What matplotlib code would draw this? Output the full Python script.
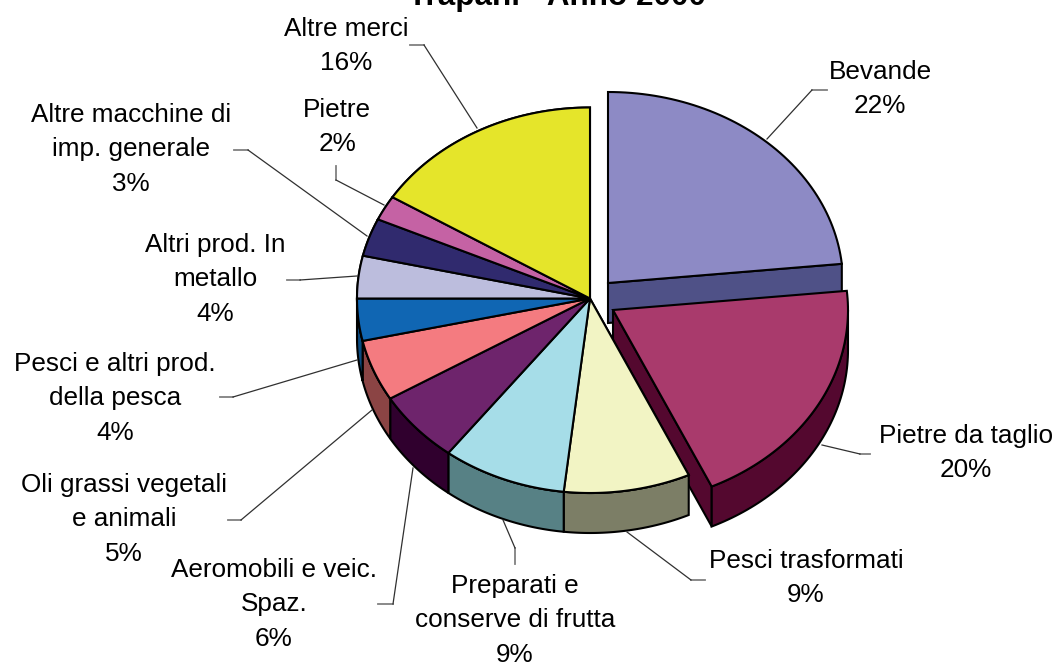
import matplotlib
matplotlib.use("Agg")
import matplotlib.pyplot as plt
import numpy as np

plt.rcParams['font.family'] = ['Liberation Sans', 'DejaVu Sans']

# slices clockwise from 12 o'clock, shares
names = ["Bevande", "Pietre da taglio", "Pesci trasformati",
         "Preparati e\nconserve di frutta", "Aeromobili e veic.\nSpaz.",
         "Oli grassi vegetali\ne animali", "Pesci e altri prod.\ndella pesca",
         "Altri prod. In\nmetallo", "Altre macchine di\nimp. generale",
         "Pietre", "Altre merci"]
shares = [23.4, 19.7, 8.7, 8.6, 6.0, 5.1, 3.5, 3.6, 3.2, 2.1, 16.1]
pct_labels = ["22%", "20%", "9%", "9%", "6%", "5%", "4%", "4%", "3%", "2%", "16%"]

top_cols = ["#8d8ac5", "#a93a6c", "#f2f4c4", "#a6dde8", "#6e246c", "#f47b80",
            "#1066b3", "#bcbddd", "#302a6e", "#c562a4", "#e5e52a"]
side_cols = ["#4f5187", "#54082f", "#7c7e66", "#578185", "#30002e", "#8b4444",
             "#0b4a80", "#6c6d88", "#1a1740", "#74385f", "#80801a"]

# label centres (x, y of the first line)
label_pos = [(880, 70), (966, 434), (806, 559), (515, 584), (274, 568),
             (124, 483), (115, 362), (215, 243), (131, 113), (337, 108), (346, 27)]

# leader lines: stub start, elbow, end on the pie
leaders = [[(827, 90), (812, 90), (767, 139)],
           [(870, 454), (860, 454), (822, 445)],
           [(705, 580), (691, 580), (627, 532)],
           [(515, 564), (515, 548), (503, 520)],
           [(378, 604), (393, 604), (413, 468)],
           [(228, 520), (241, 520), (372, 410)],
           [(220, 397), (233, 397), (357, 360)],
           [(287, 280), (300, 280), (357, 276)],
           [(234, 150), (248, 150), (367, 236)],
           [(336, 166), (336, 180), (384, 205)],
           [(410, 45), (424, 45), (477, 128)]]

RX_L, RX_R = 233, 235
RY_T, RY_B = 191, 194.5
DEPTH = 40
CENTER = (590, 298.5)
EXPLODED = {0: (608, 283), 1: (613, 310)}
LW = 1.5

fig = plt.figure(figsize=(10.55, 6.62), dpi=100)
ax = fig.add_axes([0, 0, 1, 1])
ax.set_xlim(0, 1055)
ax.set_ylim(662, 0)
ax.axis("off")

edges = np.cumsum([0] + shares) / sum(shares) * 360


def arc(c, a, b, n=60):
    t = np.radians(np.linspace(a, b, n))
    s, co = np.sin(t), np.cos(t)
    return c[0] + np.where(s > 0, RX_R, RX_L) * s, c[1] - np.where(co > 0, RY_T, RY_B) * co


def draw_slice(i):
    c = EXPLODED.get(i, CENTER)
    a, b = edges[i], edges[i + 1]
    # cut wall of the exploded slices
    if i in EXPLODED:
        ex, ey = arc(c, b, b, 1)
        ax.fill([c[0], ex[0], ex[0], c[0]], [c[1], ey[0], ey[0] + DEPTH, c[1] + DEPTH],
                fc=side_cols[i], ec="k", lw=LW)
    # outer wall, only the part that faces the viewer
    lo, hi = max(a, 90), min(b, 270)
    if lo < hi:
        x, y = arc(c, lo, hi)
        ax.fill(np.r_[x, x[::-1]], np.r_[y, y[::-1] + DEPTH], fc=side_cols[i], ec="k", lw=LW)
    x, y = arc(c, a, b)
    ax.fill(np.r_[c[0], x], np.r_[c[1], y], fc=top_cols[i], ec="k", lw=LW)


draw_slice(0)
draw_slice(1)
for i in range(2, 11):
    draw_slice(i)
# tops go over the neighbouring walls
for i in range(2, 11):
    x, y = arc(CENTER, edges[i], edges[i + 1])
    ax.fill(np.r_[CENTER[0], x], np.r_[CENTER[1], y], fc=top_cols[i], ec="k", lw=LW)

for pts in leaders:
    ax.plot([pts[0][0], pts[1][0]], [pts[0][1], pts[1][1]], color="#808080", lw=1.3, zorder=1)
    ax.plot([pts[1][0], pts[2][0]], [pts[1][1], pts[2][1]], color="#303030", lw=0.9, zorder=1)

for n, p, pos in zip(names, pct_labels, label_pos):
    lines = n.split("\n") + [p]
    for k, line in enumerate(lines):
        ax.text(pos[0], pos[1] + 9 + k * 34.3, line, fontsize=18.8, ha="center", va="baseline", color="k")

ax.text(557.5, 5, "Trapani - Anno 2000", fontsize=22.6, fontweight="bold",
        ha="center", va="baseline", color="k")

fig.savefig("out.png", dpi=100)
